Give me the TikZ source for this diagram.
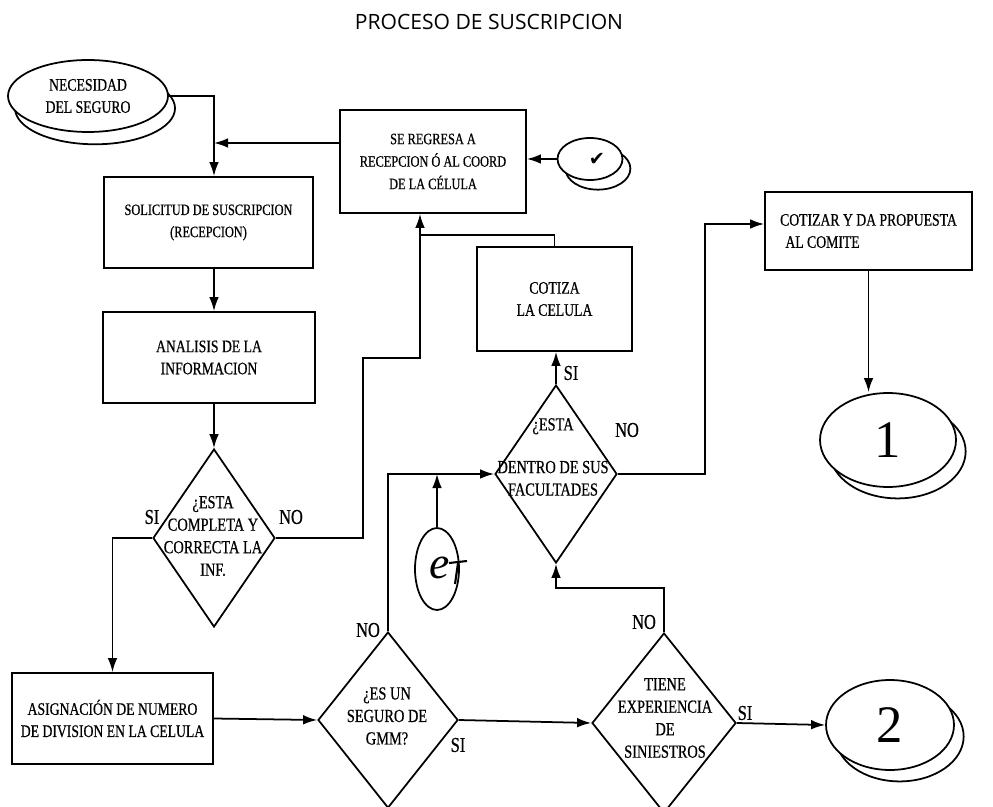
\documentclass[tikz,border=0pt]{standalone}
\usepackage{fontspec}
\setmainfont{Liberation Serif}
\newfontfamily\boxfont[FakeStretch=0.78,FakeBold=0.6]{Liberation Serif}
\newfontfamily\titlefont{Open Sans}
\newfontfamily\symbfont{DejaVu Sans}
\usepackage{tikz}
\usetikzlibrary{shadows,arrows.meta}
\usetikzlibrary{shapes,calc}

\tikzset{
  flow/.style={line width=1pt,-{Latex[length=8pt,width=5.5pt]}},
  link/.style={line width=1pt},
  proc/.style={draw,line width=1pt,rectangle,align=center,font=\boxfont\fontsize{10}{12.6}\selectfont},
  decision/.style={draw,line width=1pt,diamond,inner sep=0pt},
  dtext/.style={align=center,font=\boxfont\fontsize{10.5}{12.8}\selectfont},
  answer/.style={font=\boxfont\fontsize{12}{12}\selectfont},
  terminal/.style args={#1/#2}{draw,line width=1pt,ellipse,fill=white,inner sep=0pt,
    copy shadow={shadow xshift=#1,shadow yshift=#2,draw=black,line width=1pt,fill=white}},
}

\begin{document}
\begin{tikzpicture}[x=0.02cm,y=-0.02cm]
    \useasboundingbox (0,0) rectangle (993,807);
    \node [font=\titlefont\fontsize{12}{12}\selectfont] (titulo) at (489,22) {PROCESO DE SUSCRIPCION};

    \node [terminal=4pt/-7pt,minimum width=3.2cm,minimum height=1.44cm,align=center,
      font=\boxfont\fontsize{10}{12.6}\selectfont] (necesidad) at (88,96) {NECESIDAD\\DEL SEGURO};
    \node [proc,minimum width=4.18cm,minimum height=1.82cm,font=\boxfont\fontsize{9}{12.6}\selectfont]
      (solicitud) at (208.5,222.5) {SOLICITUD DE SUSCRIPCION\\(RECEPCION)};
    \node [proc,minimum width=4.24cm,minimum height=1.82cm] (analisis) at (209,357.5) {ANALISIS DE LA\\INFORMACION};
    \node [proc,minimum width=3.72cm,minimum height=2.06cm,font=\boxfont\fontsize{9}{12.8}\selectfont]
      (regresa) at (433,161.5) {SE REGRESA A\\RECEPCION Ó AL COORD\\DE LA CÉLULA};
    \node [terminal=4.5pt/-5.5pt,minimum width=1.3cm,minimum height=0.84cm] (visto) at (590,159)
      {\hspace{8pt}\symbfont\fontsize{11}{11}\selectfont ✔};
    \node [proc,minimum width=3.1cm,minimum height=2.08cm] (cotiza) at (554.5,299) {COTIZA\\LA CELULA};
    \node [proc,minimum width=4.14cm,minimum height=1.56cm,align=left] (cotizar) at (868.5,231)
      {COTIZAR Y DA PROPUESTA\\\hspace{3pt}AL COMITE};
    \node [proc,minimum width=4.02cm,minimum height=1.82cm] (asignacion) at (112.5,718.5)
      {ASIGNACIÓN DE NUMERO\\DE DIVISION EN LA CELULA};

    \node [decision,minimum width=2.44cm,minimum height=3.56cm] (completa) at (214,538) {};
    \node [dtext] (completa-txt) at (213,536) {¿ESTA\\COMPLETA Y\\CORRECTA LA\\INF.};
    \node [decision,minimum width=2.44cm,minimum height=3.56cm] (facultades) at (556,474) {};
    \node [dtext] (facultades-txt) at (553,457) {¿ESTA\\[11.5pt]DENTRO DE SUS\\FACULTADES};
    \node [decision,minimum width=2.8cm,minimum height=3.52cm] (gmm) at (388,720) {};
    \node [dtext] (gmm-txt) at (387,716) {¿ES UN\\SEGURO DE\\GMM?};
    \node [decision,minimum width=2.88cm,minimum height=3.6cm] (siniestros) at (664,723) {};
    \node [dtext] (siniestros-txt) at (665,718) {TIENE\\EXPERIENCIA\\DE\\SINIESTROS};

    \node [terminal=5.5pt/-6.5pt,minimum width=2.72cm,minimum height=1.88cm,
      font=\fontsize{30}{30}\selectfont] (uno) at (888,440) {1};
    \node [terminal=5.5pt/-6.5pt,minimum width=2.56cm,minimum height=1.8cm,
      font=\fontsize{30}{30}\selectfont] (dos) at (890,725) {2};
    \node [draw,line width=1pt,ellipse,minimum width=0.88cm,minimum height=1.64cm,inner sep=0pt] (conector) at (437,569) {};
    \node [font=\fontsize{26}{26}\selectfont\itshape] (letra) at (440,568) {e};
    \draw [line width=1.2pt] (449,563) -- (467,561);
    \draw [line width=1.2pt] (458,563) -- (455,584);

    \node [answer] (si-completa) at (152,517) {SI};
    \node [answer] (no-completa) at (291,517) {NO};
    \node [answer] (si-facultades) at (571,373) {SI};
    \node [answer] (no-facultades) at (627,430) {NO};
    \node [answer] (no-gmm) at (368,630) {NO};
    \node [answer] (si-gmm) at (458,745) {SI};
    \node [answer] (no-siniestros) at (644,622) {NO};
    \node [answer] (si-siniestros) at (745,713) {SI};

    \coordinate (junta) at (214,143);
    \coordinate (sube) at (420,235);
    \coordinate (codo) at (363,358);
    \coordinate (desvio) at (705,224);
    \coordinate (regreso) at (664,588);

    \draw [flow] (necesidad.east) -| (solicitud.north -| junta);
    \draw [flow] (regresa.west |- junta) -- (junta);
    \draw [flow] (visto.west) -- (visto.west -| regresa.east);
    \draw [flow] (solicitud.south -| completa.north) -- (analisis.north -| completa.north);
    \draw [flow] (analisis.south -| completa.north) -- (completa.north);
    \draw [flow] (completa.east) -| (codo) -| (regresa.south -| sube);
    \draw [link] (cotiza.north) |- (sube);
    \draw [flow] (facultades.north) -- (facultades.north |- cotiza.south);
    \draw [flow] (facultades.east) -| (desvio) -- (desvio -| cotizar.west);
    \draw [flow] (cotizar.south) -- (cotizar.south |- uno.north);
    \draw [flow] (completa.west) -| (asignacion.north);
    \draw [flow] (asignacion.east) -- (gmm.west);
    \draw [flow] (gmm.north) |- (facultades.west);
    \draw [flow] (conector.north) -- (conector.north |- facultades.west);
    \draw [flow] (gmm.east) -- (siniestros.west);
    \draw [flow] (siniestros.north) -- (regreso) -| (facultades.south);
    \draw [flow] (siniestros.east) -- (dos.west);
\end{tikzpicture}
\end{document}
